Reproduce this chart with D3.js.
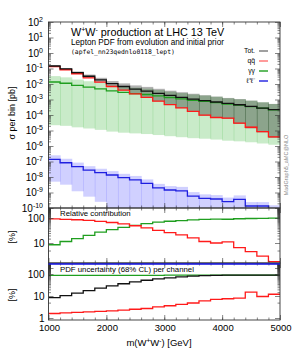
<!DOCTYPE html>
<html><head><meta charset="utf-8">
<script src="https://cdn.jsdelivr.net/npm/d3@7"></script>
<style>body{margin:0;background:#fff}svg{display:block;font-family:"Liberation Sans",Arial,sans-serif}</style>
</head><body><svg id="c" width="293" height="351"></svg>
<script>
// ---- data ----
const binEdges = [1000,1200,1400,1600,1800,2000,2200,2400,2600,2800,3000,3200,3400,3600,3800,4000,4200,4400,4600,4800,5000];
const xTickValues = [1000,2000,3000,4000,5000];

const total    = [0.145,0.0933,0.0537,0.0316,0.0182,0.0105,6.9e-3,4.7e-3,3.5e-3,2.5e-3,1.82e-3,1.38e-3,1.07e-3,8.5e-4,6.9e-4,5.6e-4,4.6e-4,3.6e-4,2.8e-4,2.2e-4];
const totalHi  = [0.162,0.108,0.0646,0.0407,0.0251,0.0155,0.011,8.1e-3,6.5e-3,4.9e-3,3.7e-3,2.95e-3,2.35e-3,1.9e-3,1.55e-3,1.26e-3,1.07e-3,8.5e-4,6.6e-4,5.2e-4];
const totalLo  = [0.130,0.0816,0.0449,0.0246,0.0129,6.75e-3,3.9e-3,2.24e-3,1.34e-3,7.6e-4,4.5e-4,2.8e-4,1.6e-4,9.2e-5,6.4e-5,5.7e-5,2.7e-5,1.38e-5,7.7e-6,3.4e-6];

const qqbar    = [0.132,0.083,0.0457,0.0251,0.0132,6.9e-3,4.0e-3,2.3e-3,1.38e-3,7.9e-4,4.7e-4,2.9e-4,1.7e-4,9.8e-5,6.9e-5,6.2e-5,2.95e-5,1.62e-5,8.5e-6,3.9e-6];

const gamgam   = [0.0135,0.0112,8.1e-3,6.3e-3,4.9e-3,3.55e-3,2.9e-3,2.4e-3,2.1e-3,1.7e-3,1.35e-3,1.1e-3,8.9e-4,7.6e-4,6.2e-4,5.0e-4,4.3e-4,3.5e-4,2.75e-4,2.14e-4];
const gamgamHi = [0.0324,0.0269,0.0194,0.0151,0.0118,8.5e-3,7.0e-3,5.8e-3,5.0e-3,4.1e-3,3.2e-3,2.6e-3,2.1e-3,1.8e-3,1.5e-3,1.2e-3,1.03e-3,8.4e-4,6.6e-4,5.1e-4];
const gamgamLo = [2.2e-5,2.0e-5,1.6e-5,1.35e-5,1.1e-5,8.5e-6,7.2e-6,6.5e-6,5.9e-6,5.1e-6,4.3e-6,3.7e-6,3.2e-6,2.95e-6,2.6e-6,2.2e-6,2.0e-6,1.74e-6,1.45e-6,1.2e-6];

const lepton   = [1.38e-7,8.3e-8,4.7e-8,2.8e-8,1.9e-8,1.35e-8,9.1e-9,6.5e-9,3.9e-9,2.0e-9,1.45e-9,1.26e-9,5.9e-10,4.2e-10,3.8e-10,2.6e-10,3.6e-10,1.35e-10,1.35e-10,8e-11];
const leptonHi = [2.5e-7,1.5e-7,8.5e-8,5.0e-8,3.4e-8,2.4e-8,1.6e-8,1.17e-8,7e-9,3.6e-9,2.6e-9,2.3e-9,1.06e-9,7.6e-10,6.8e-10,4.7e-10,6.5e-10,2.4e-10,2.4e-10,1.5e-10];
const leptonLo = [5e-9,3.2e-9,1.2e-9,5.4e-10,2.5e-10,1e-11,1e-11,1e-11,1e-11,1e-11,1e-11,1e-11,1e-11,1e-11,1e-11,1e-11,1e-11,1e-11,1e-11,1e-11];

// relative contribution [%]
const fracQQ = [91.5,88.5,85,80,73,66,58,49,40,32,26,21,16,11.5,10,11,6.5,4.5,3,1.8];
const fracGG = [8.5,11.5,15,20,27,34,42,51,60,68,74,79,84,88.5,90,89,93.5,95.5,97,98.2];

// PDF uncertainty per channel [%]
const uncTot = [8.5,10.5,13.5,17.5,23,29,36,44,52,60,67,74,80,85,87,88,88,88.5,88.5,89];
const uncQQ  = [1.6,1.7,1.8,1.9,2.0,2.1,2.3,2.5,2.7,3.2,3.6,4.2,4.8,6.0,7.0,7.5,8.0,15,9.5,12];
const uncGG  = [86,86,86.5,86.5,87,87,87,87.5,87.5,87.5,88,88,88,88,88.5,88.5,88.5,88.5,89,89];
const uncLL  = [300,300,300,300,300,300,300,300,300,300,300,300,300,300,300,300,300,300,300,300];

const y1Exps = [2,1,0,-1,-2,-3,-4,-5,-6,-7,-8,-9,-10];
const y2Ticks = [10,100];
const y3Ticks = [1,10,100];

// ---- layout ----
const svg = d3.select("#c");
const X0 = 48.5, X1 = 280;
const x = d3.scaleLinear().domain([1000,5000]).range([X0,X1]);
const P1 = {top:22, bot:208}, P2 = {top:208, bot:263}, P3 = {top:263, bot:320};
const y1 = d3.scaleLog().domain([1e-10,1e2]).range([P1.bot,P1.top]);
const y2 = d3.scaleLog().domain([Math.pow(10,1-20/25),Math.pow(10,2+10/25)]).range([P2.bot,P2.top]);
const y3 = d3.scaleLog().domain([Math.pow(10,-2/22),Math.pow(10,2.5)]).range([P3.bot,P3.top]);

const C = {
  tot:"#111", totBand:"rgba(0,0,0,0.3)",
  qq:"#ff1a1a", qqBand:"rgba(255,40,40,0.28)",
  gg:"#1f9e1f", ggBand:"rgba(40,175,40,0.25)",
  ll:"#1f1fe0", llBand:"rgba(80,80,255,0.27)",
  axis:"#333"
};

const defs = svg.append("defs");
[["c1",P1],["c2",P2],["c3",P3]].forEach(([id,p])=>{
  defs.append("clipPath").attr("id",id).append("rect")
    .attr("x",X0).attr("y",p.top).attr("width",X1-X0).attr("height",p.bot-p.top);
});

function bandRects(g, lo, hi, ys, fill){
  const dom = ys.domain();
  g.selectAll(null).data(lo).enter().append("rect")
    .attr("x",(d,i)=>x(binEdges[i]))
    .attr("width",(d,i)=>x(binEdges[i+1])-x(binEdges[i])+0.6)
    .attr("y",(d,i)=>ys(Math.min(hi[i],dom[1]*10)))
    .attr("height",(d,i)=>ys(Math.max(lo[i],dom[0]/10))-ys(Math.min(hi[i],dom[1]*10)))
    .attr("fill",fill);
}
function stepLine(g, vals, ys, color, w){
  const dom = ys.domain();
  const pts = vals.map((v,i)=>[binEdges[i], v]);
  pts.push([binEdges[vals.length], vals[vals.length-1]]);
  const line = d3.line().curve(d3.curveStepAfter)
    .x(d=>x(d[0])).y(d=>ys(Math.max(Math.min(d[1],dom[1]*5),dom[0]/5)));
  g.append("path").attr("d",line(pts)).attr("fill","none")
    .attr("stroke",color).attr("stroke-width",w||1.3);
}

// ---- panel 1 ----
const g1 = svg.append("g").attr("clip-path","url(#c1)");
bandRects(g1, gamgamLo, gamgamHi, y1, C.ggBand);
bandRects(g1, totalLo, totalHi, y1, C.totBand);
bandRects(g1, qqbar.map((v,i)=>v*(1-uncQQ[i]/100)), qqbar.map((v,i)=>v*(1+uncQQ[i]/100)), y1, C.qqBand);
bandRects(g1, leptonLo, leptonHi, y1, C.llBand);
stepLine(g1, gamgam, y1, C.gg);
stepLine(g1, qqbar, y1, C.qq);
stepLine(g1, lepton, y1, C.ll);
stepLine(g1, total, y1, C.tot);

// ---- panel 2 ----
const g2 = svg.append("g").attr("clip-path","url(#c2)");
stepLine(g2, fracGG, y2, C.gg);
stepLine(g2, fracQQ, y2, C.qq);

// ---- panel 3 ----
const g3 = svg.append("g").attr("clip-path","url(#c3)");
stepLine(g3, uncLL, y3, C.ll, 1.6);
stepLine(g3, uncGG, y3, C.gg);
stepLine(g3, uncTot, y3, C.tot);
stepLine(g3, uncQQ, y3, C.qq);

// ---- axes ----
function minorLog(ys){
  return ys.ticks(60).filter(v=>{const l=Math.log10(v);return Math.abs(l-Math.round(l))>1e-6;});
}
function yAxes(ys, majors, p){
  const mL = svg.append("g").attr("transform",`translate(${X0},0)`)
    .call(d3.axisLeft(ys).tickValues(majors).tickSize(-5).tickFormat(""));
  const nL = svg.append("g").attr("transform",`translate(${X0},0)`)
    .call(d3.axisLeft(ys).tickValues(minorLog(ys)).tickSize(-2.5).tickFormat(""));
  const mR = svg.append("g").attr("transform",`translate(${X1},0)`)
    .call(d3.axisRight(ys).tickValues(majors).tickSize(-5).tickFormat(""));
  const nR = svg.append("g").attr("transform",`translate(${X1},0)`)
    .call(d3.axisRight(ys).tickValues(minorLog(ys)).tickSize(-2.5).tickFormat(""));
  [mL,nL,mR,nR].forEach(a=>{a.select(".domain").remove();a.selectAll("line").attr("stroke",C.axis).attr("stroke-width",0.6);});
}
yAxes(y1, y1Exps.map(e=>Math.pow(10,e)), P1);
yAxes(y2, [1,10,100], P2);
yAxes(y3, [1,10,100], P3);

const minorX = d3.range(1200,5000,200);
function xAxes(p){
  [[p.bot, d3.axisBottom],[p.top, d3.axisTop]].forEach(([yy,ax])=>{
    const a = svg.append("g").attr("transform",`translate(0,${yy})`)
      .call(ax(x).tickValues(xTickValues).tickSize(-5).tickFormat(""));
    const b = svg.append("g").attr("transform",`translate(0,${yy})`)
      .call(ax(x).tickValues(minorX).tickSize(-2.5).tickFormat(""));
    [a,b].forEach(s=>{s.select(".domain").remove();s.selectAll("line").attr("stroke",C.axis).attr("stroke-width",0.6);});
  });
}
xAxes(P1); xAxes(P2); xAxes(P3);

// frames
[P1,P2,P3].forEach(p=>{
  svg.append("rect").attr("x",X0).attr("y",p.top).attr("width",X1-X0).attr("height",p.bot-p.top)
    .attr("fill","none").attr("stroke",C.axis).attr("stroke-width",0.9);
});
// lepton uncertainty runs off the top of panel 3: redraw it along the top edge
stepLine(svg.append("g"), uncLL.map(()=>y3.invert(P3.top+1)), y3, C.ll, 1.4);

// y tick labels panel 1
const lab1 = svg.append("g").attr("font-size",10).attr("fill","#000");
y1Exps.forEach(e=>{
  const t = lab1.append("text").attr("x",X0-5.5).attr("y",y1(Math.pow(10,e))+3.5).attr("text-anchor","end");
  t.append("tspan").text("10");
  t.append("tspan").attr("dy",-4).attr("font-size",7).text(String(e));
});
y2Ticks.forEach(v=>{
  svg.append("text").attr("x",X0-4).attr("y",y2(v)+3.5).attr("text-anchor","end").attr("font-size",10).text(v);
});
y3Ticks.forEach(v=>{
  svg.append("text").attr("x",X0-4).attr("y",y3(v)+3.5).attr("text-anchor","end").attr("font-size",10).text(v);
});
xTickValues.forEach(v=>{
  svg.append("text").attr("x",x(v)+1).attr("y",331).attr("text-anchor","middle").attr("font-size",9.5).text(v);
});
const xt = svg.append("text").attr("x",159).attr("y",346).attr("text-anchor","middle").attr("font-size",9.5);
xt.append("tspan").text("m(W");
xt.append("tspan").attr("dy",-3.5).attr("font-size",6.5).text("+");
xt.append("tspan").attr("dy",3.5).text("W");
xt.append("tspan").attr("dy",-3.5).attr("font-size",6.5).text("-");
xt.append("tspan").attr("dy",3.5).text(") [GeV]");

svg.append("text").attr("transform","translate(15,113) rotate(-90)").attr("text-anchor","middle").attr("font-size",9).text("σ per bin [pb]");
svg.append("text").attr("transform","translate(15,237) rotate(-90)").attr("text-anchor","middle").attr("font-size",9).text("[%]");
svg.append("text").attr("transform","translate(15,295) rotate(-90)").attr("text-anchor","middle").attr("font-size",9).text("[%]");

svg.append("text").attr("x",60).attr("y",216).attr("font-size",7.8).text("Relative contribution");
svg.append("text").attr("x",60).attr("y",271.5).attr("font-size",7.8).text("PDF uncertainty (68% CL) per channel");

const t1 = svg.append("text").attr("x",71).attr("y",36).attr("font-size",10.8);
t1.append("tspan").text("W");
t1.append("tspan").attr("dy",-4).attr("font-size",7).text("+");
t1.append("tspan").attr("dy",4).text("W");
t1.append("tspan").attr("dy",-4).attr("font-size",7).text("-");
t1.append("tspan").attr("dy",4).text(" production at LHC 13 TeV");
svg.append("text").attr("x",71).attr("y",45).attr("font-size",8.2).text("Lepton PDF from evolution and initial prior");
svg.append("text").attr("x",71).attr("y",54).attr("font-size",6.4).attr("font-family","'DejaVu Sans Mono','Liberation Mono',monospace").text("(apfel_nn23qednlo0118_lept)");

const legend = [["Tot.","#777"],["qq\u0304","#ff7070"],["γγ",C.gg],["ℓ⁺ℓ⁻",C.ll]];
legend.forEach((d,i)=>{
  const yy = 51 + i*10;
  svg.append("text").attr("x",255).attr("y",yy+2).attr("text-anchor","end").attr("font-size",6.8).attr("fill","#000").text(d[0]);
  svg.append("line").attr("x1",259).attr("x2",268).attr("y1",yy).attr("y2",yy).attr("stroke",d[1]).attr("stroke-width",1.4);
});

svg.append("text").attr("transform","translate(288,165) rotate(-90)").attr("text-anchor","middle")
  .attr("font-size",5.5).attr("fill","#888").text("MadGraph5_aMC@NLO");
</script></body></html>
